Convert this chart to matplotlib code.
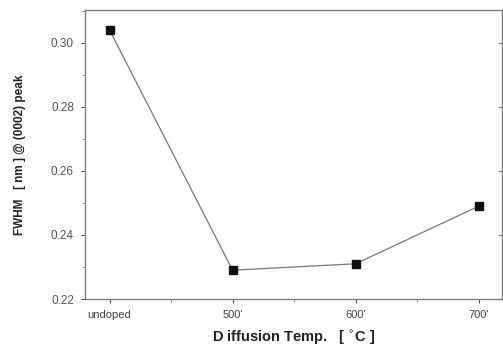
import numpy as np
import matplotlib.pyplot as plt
from matplotlib.ticker import MultipleLocator

# Data
categories = ["undoped", "500'", "600'", "700'"]
fwhm = [0.304, 0.229, 0.231, 0.249]
yticks = [0.22, 0.24, 0.26, 0.28, 0.30]

plt.rcParams['font.family'] = ['Liberation Sans', 'DejaVu Sans']

fig = plt.figure(figsize=(5.03, 3.51), dpi=100)
ax = fig.add_axes([85 / 503, 52 / 351, 417 / 503, 289 / 351])

x = np.arange(len(categories))
ax.plot(x, fwhm, color='#777777', lw=0.9, zorder=2)
ax.plot(x, fwhm, 's', color='#111111', ms=6, zorder=3)

ax.set_xlim(-0.2, 3.19)
ax.set_ylim(0.22, 0.3103)
ax.set_xticks(x)
ax.set_xticklabels(categories, fontsize=8, color='#444444')
ax.xaxis.set_minor_locator(MultipleLocator(0.5))
ax.set_yticks(yticks)
ax.set_yticklabels(["%.2f" % v for v in yticks], fontsize=8.5, color='#555555')
ax.yaxis.set_minor_locator(MultipleLocator(0.01))

ax.tick_params(axis='both', which='major', direction='out', length=3, width=0.8,
               color='#555555', pad=5)
ax.tick_params(axis='both', which='minor', direction='out', length=2, width=0.6, color='#777777')

# inward ticks on the right frame
right = ax.secondary_yaxis('right')
right.set_yticks(yticks)
right.tick_params(direction='in', length=3, width=0.8, color='#777777', labelright=False)
right.spines['right'].set_color('#777777')

for s in ax.spines.values():
    s.set_color('#777777')
    s.set_linewidth(0.9)

ax.set_xlabel("D iffusion Temp.   [ $^{\\circ}$C ]", fontsize=10.5, fontweight='bold',
              color='#222222', labelpad=6)
ax.set_ylabel("FWHM   [ nm ] @ (0002) peak", fontsize=8.5, fontweight='bold',
              color='#222222', labelpad=18)

fig.savefig("out.png", dpi=100)
